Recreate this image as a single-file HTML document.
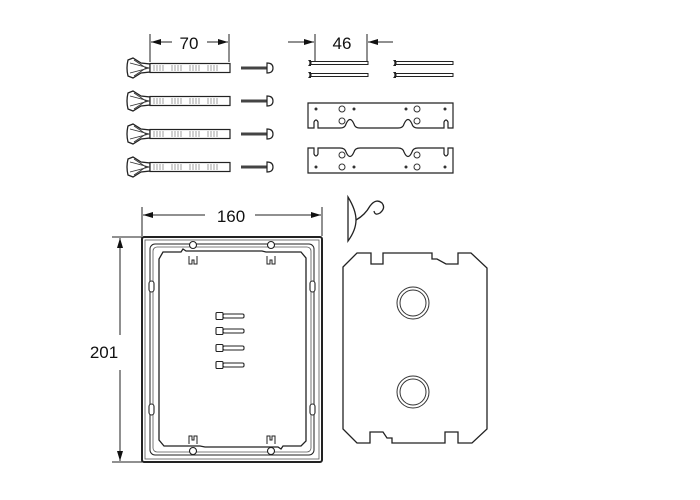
<!DOCTYPE html>
<html><head><meta charset="utf-8"><style>html,body{margin:0;padding:0;background:#fff}svg{display:block}</style></head>
<body>
<svg width="700" height="500" viewBox="0 0 700 500" xmlns="http://www.w3.org/2000/svg" font-family="Liberation Sans, sans-serif">
<defs>
<g id="anchor">
 <path d="M128,-8 L133,-10 L141,-5 L150,-4 L150,4 L141,5 L133,10 L128,8 Q126,0 128,-8 Z" fill="#fff" stroke="#222" stroke-width="1.3"/>
 <path d="M130,-5 L149,0 L130,5 M134,-8 L146,0 L134,8" fill="none" stroke="#333" stroke-width="0.9"/>
 <rect x="150" y="-4.5" width="80" height="9" fill="#fff" stroke="#222" stroke-width="1.2"/>
 <path d="M154,-3v6M157,-3v6M160,-3v6M163,-3v6M172,-3v6M175,-3v6M178,-3v6M181,-3v6M190,-3v6M193,-3v6M196,-3v6M199,-3v6M208,-3v6M211,-3v6M214,-3v6M217,-3v6" stroke="#444" stroke-width="0.5"/>
 <rect x="241" y="-1.5" width="26" height="3" fill="#444"/>
 <path d="M267,-5 Q273,-5 273,0 Q273,5 267,5 Z" fill="#fff" stroke="#222" stroke-width="1.2"/>
</g>
<g id="pin">
 <rect x="0" y="-1.5" width="57" height="3" fill="#fff" stroke="#222" stroke-width="1"/>
 <path d="M-3,-3 Q0,0 -3,3 L0,3 0,-3 Z" fill="#222"/>
</g>
<g id="mscrew">
 <rect x="0" y="-3.5" width="7" height="7" rx="1" fill="#fff" stroke="#222" stroke-width="1.1"/>
 <rect x="7" y="-2" width="21" height="4" rx="1.5" fill="#fff" stroke="#222" stroke-width="1.1"/>
</g>
<marker id="ar" markerWidth="10" markerHeight="6" refX="10" refY="3" orient="auto" markerUnits="userSpaceOnUse"><path d="M0,0 L10,3 L0,6 Z" fill="#111"/></marker>
</defs>

<g stroke="#222" stroke-width="1" fill="none">
 <line x1="150" y1="34" x2="150" y2="62"/><line x1="229" y1="34" x2="229" y2="62"/>
 <line x1="172" y1="42" x2="151" y2="42" marker-end="url(#ar)"/>
 <line x1="207" y1="42" x2="228" y2="42" marker-end="url(#ar)"/>
 <line x1="315" y1="34" x2="315" y2="62"/><line x1="367" y1="34" x2="367" y2="62"/>
 <line x1="288" y1="42" x2="314" y2="42" marker-end="url(#ar)"/>
 <line x1="393" y1="42" x2="368" y2="42" marker-end="url(#ar)"/>
 <line x1="142" y1="207" x2="142" y2="236"/><line x1="322" y1="207" x2="322" y2="236"/>
 <line x1="205" y1="215" x2="143" y2="215" marker-end="url(#ar)"/>
 <line x1="255" y1="215" x2="321" y2="215" marker-end="url(#ar)"/>
 <line x1="112" y1="237" x2="142" y2="237"/><line x1="112" y1="462" x2="142" y2="462"/>
 <line x1="120" y1="335" x2="120" y2="238" marker-end="url(#ar)"/>
 <line x1="120" y1="370" x2="120" y2="461" marker-end="url(#ar)"/>
</g>
<g font-size="17" fill="#111" text-anchor="middle">
 <text x="189" y="49">70</text>
 <text x="342" y="49">46</text>
 <text x="231" y="222">160</text>
 <text x="104" y="358">201</text>
</g>

<use href="#anchor" y="68"/><use href="#anchor" y="101"/><use href="#anchor" y="134"/><use href="#anchor" y="167"/>
<use href="#pin" x="311" y="63"/><use href="#pin" x="311" y="75"/><use href="#pin" x="396" y="63"/><use href="#pin" x="396" y="75"/>

<g stroke="#222" stroke-width="1.2" fill="#fff">
 <path d="M308,103 H453 V128 H448 V122 Q446,118 444,122 V128 H418 Q413,128 412,124 Q408,115 404,124 Q403,128 398,128 H360 Q355,128 354,124 Q350,115 346,124 Q345,128 340,128 H318 V122 Q316,118 314,122 V128 H308 Z"/>
 <path d="M308,173 H453 V148 H448 V154 Q446,158 444,154 V148 H418 Q413,148 412,152 Q408,161 404,152 Q403,148 398,148 H360 Q355,148 354,152 Q350,161 346,152 Q345,148 340,148 H318 V154 Q316,158 314,154 V148 H308 Z"/>
</g>
<g fill="none" stroke="#333" stroke-width="1">
 <circle cx="342" cy="109" r="3"/><circle cx="342" cy="121" r="3"/><circle cx="417" cy="109" r="3"/><circle cx="417" cy="121" r="3"/>
 <circle cx="342" cy="155" r="3"/><circle cx="342" cy="167" r="3"/><circle cx="417" cy="155" r="3"/><circle cx="417" cy="167" r="3"/>
</g>
<g fill="#333">
 <circle cx="316" cy="109" r="1.5"/><circle cx="354" cy="109" r="1.5"/><circle cx="406" cy="109" r="1.5"/><circle cx="445" cy="109" r="1.5"/>
 <circle cx="316" cy="167" r="1.5"/><circle cx="354" cy="167" r="1.5"/><circle cx="406" cy="167" r="1.5"/><circle cx="445" cy="167" r="1.5"/>
</g>

<g fill="none" stroke="#222">
 <rect x="142" y="237" width="180" height="225" rx="2" stroke-width="2"/>
 <rect x="145" y="240" width="174" height="219" stroke-width="0.8" stroke="#555"/>
 <rect x="150" y="244" width="164" height="211" rx="5" stroke-width="1"/>
 <rect x="153" y="247" width="158" height="205" rx="4" stroke-width="0.8" stroke="#555"/>
 <path d="M163,252 H181 L183,249 L186,251 H262 L266,252 H301 L306,258 V441 L301,446 H283 L281,449 L278,447 H205 L200,446 H164 L159,440 V259 Z" stroke-width="1.3"/>
 <g stroke-width="1.1" fill="#fff">
  <circle cx="193" cy="245" r="3.5"/><circle cx="271" cy="245" r="3.5"/>
  <circle cx="193" cy="451" r="3.5"/><circle cx="271" cy="451" r="3.5"/>
  <rect x="149" y="281" width="5" height="11" rx="2.5"/><rect x="310" y="281" width="5" height="11" rx="2.5"/>
  <rect x="149" y="404" width="5" height="11" rx="2.5"/><rect x="310" y="404" width="5" height="11" rx="2.5"/>
 </g>
 <path d="M189,256 v8 h3 v-4 h2 v4 h3 v-8 M267,256 v8 h3 v-4 h2 v4 h3 v-8 M189,444 v-8 h3 v4 h2 v-4 h3 v8 M267,444 v-8 h3 v4 h2 v-4 h3 v8" stroke-width="1"/>
</g>
<use href="#mscrew" x="216" y="316"/><use href="#mscrew" x="216" y="331"/><use href="#mscrew" x="216" y="348"/><use href="#mscrew" x="216" y="365"/>

<g fill="none" stroke="#222" stroke-width="1.3">
 <path d="M348,197 Q356,210 356,220 Q356,230 348,241 Z" fill="#fff"/>
 <path d="M356,220 Q365,215 370,206 Q376,198 382,203 Q386,208 380,213 Q375,216 374,211"/>
</g>

<path d="M343,267 L357,253 H371 V264 H383 V253 H432 V259 H437 L446,264 H458 V253 H471 L487,268 V429 L472,443 H458 V432 H445 V443 H392 V438 H387 L383,432 H370 V443 H357 L343,429 Z" fill="#fff" stroke="#222" stroke-width="1.3"/>
<g fill="none" stroke="#333" stroke-width="1">
 <circle cx="413" cy="303" r="16"/><circle cx="413" cy="303" r="13"/>
 <circle cx="413" cy="392" r="16"/><circle cx="413" cy="392" r="13"/>
</g>
</svg>
</body></html>
